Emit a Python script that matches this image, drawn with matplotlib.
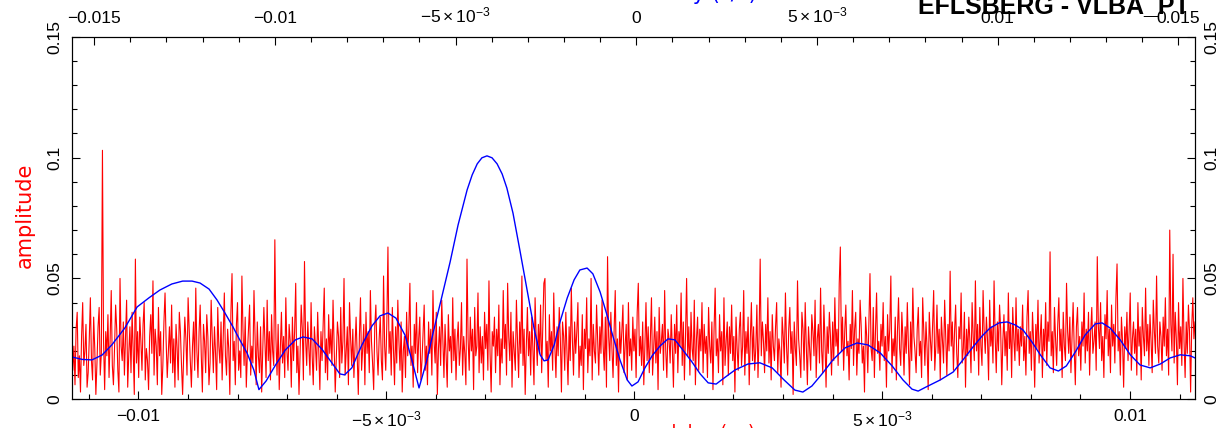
import numpy as np
import matplotlib.pyplot as plt
from matplotlib.ticker import MultipleLocator

plt.rcParams['font.family'] = ['Liberation Sans', 'DejaVu Sans']
plt.rcParams['mathtext.fontset'] = 'custom'
plt.rcParams['mathtext.rm'] = 'Liberation Sans'
plt.rcParams['mathtext.it'] = 'Liberation Sans'

# red: amplitude vs delay (bottom axis), in units of 1e-3
red_amp_milli = [
    32, 12, 22, 6, 29, 36, 9, 18, 3, 26, 40, 14, 20, 31, 5, 11, 25, 42, 16, 8, 34, 21, 2, 15, 30, 38, 10, 19, 103, 24, 4, 28,
    18, 35, 9, 25, 45, 14, 6, 21, 39, 29, 12, 3, 50, 22, 16, 32, 10, 26, 41, 5, 19, 30, 11, 36, 20, 2, 58, 15, 28, 9, 34, 24,
    12, 31, 40, 8, 21, 16, 4, 26, 35, 19, 49, 10, 29, 22, 6, 38, 18, 28, 2, 14, 32, 44, 24, 9, 20, 30, 15, 39, 11, 25, 5, 31,
    21, 8, 36, 28, 14, 2, 19, 34, 25, 10, 42, 29, 16, 5, 22, 32, 12, 46, 20, 9, 28, 39, 18, 3, 31, 24, 11, 35, 26, 6, 15, 41,
    25, 11, 30, 19, 4, 38, 22, 15, 32, 8, 26, 44, 18, 10, 29, 21, 2, 36, 52, 16, 24, 6, 31, 40, 12, 20, 9, 51, 28, 14, 34, 5,
    19, 29, 39, 10, 22, 15, 45, 26, 6, 32, 18, 11, 30, 3, 21, 38, 24, 9, 41, 16, 28, 8, 35, 20, 14, 66, 25, 10, 31, 4, 21, 36,
    15, 26, 9, 42, 20, 12, 31, 24, 5, 34, 16, 28, 48, 11, 22, 2, 19, 39, 29, 8, 57, 25, 14, 32, 21, 10, 40, 18, 6, 30, 22, 12,
    36, 20, 4, 28, 16, 31, 46, 11, 25, 8, 35, 19, 29, 14, 41, 22, 3, 18, 32, 26, 9, 38, 15, 24, 50, 10, 20, 30, 6, 40, 25, 14,
    29, 9, 22, 34, 18, 2, 26, 42, 12, 21, 31, 6, 36, 19, 28, 11, 45, 24, 15, 4, 30, 39, 20, 10, 25, 34, 16, 8, 51, 22, 12, 32,
    63, 19, 28, 10, 38, 21, 6, 30, 15, 41, 24, 12, 32, 3, 20, 26, 9, 36, 18, 29, 48, 14, 22, 5, 31, 19, 40, 11, 25, 34, 8, 16,
    28, 39, 12, 22, 6, 32, 19, 29, 10, 45, 24, 15, 36, 2, 21, 30, 14, 41, 25, 9, 31, 18, 5, 35, 20, 26, 11, 42, 16, 29, 8, 24,
    32, 14, 21, 40, 10, 26, 19, 6, 58, 25, 12, 34, 20, 29, 4, 38, 18, 22, 44, 11, 30, 15, 26, 8, 36, 21, 31, 12, 49, 19, 3, 28,
    22, 34, 11, 29, 18, 39, 6, 25, 15, 45, 21, 31, 10, 48, 26, 16, 36, 5, 28, 20, 12, 41, 24, 9, 32, 19, 51, 14, 29, 2, 22, 38,
    18, 28, 10, 34, 21, 6, 42, 25, 14, 31, 19, 39, 11, 29, 48, 50, 16, 24, 5, 35, 20, 28, 12, 44, 22, 9, 30, 18, 38, 25, 3, 32,
    26, 12, 36, 20, 6, 30, 16, 46, 24, 10, 32, 19, 28, 40, 9, 22, 14, 35, 4, 29, 21, 42, 11, 25, 18, 50, 8, 31, 20, 15, 39, 24,
    10, 30, 19, 41, 22, 12, 34, 5, 59, 26, 16, 36, 21, 9, 29, 45, 14, 25, 3, 32, 19, 28, 39, 11, 22, 31, 8, 40, 18, 25, 12, 34,
    20, 29, 9, 36, 48, 18, 26, 14, 32, 6, 22, 40, 16, 30, 11, 25, 42, 10, 21, 34, 15, 28, 4, 38, 19, 24, 31, 12, 45, 20, 9, 29,
    25, 15, 35, 21, 5, 31, 19, 39, 11, 28, 22, 44, 14, 32, 8, 26, 50, 18, 30, 10, 36, 21, 16, 41, 6, 25, 34, 12, 29, 20, 40, 11,
    31, 19, 26, 9, 38, 22, 15, 32, 4, 29, 46, 18, 25, 11, 35, 20, 28, 6, 42, 14, 24, 32, 10, 30, 19, 39, 16, 26, 3, 34, 21, 12,
    29, 36, 14, 22, 45, 10, 28, 19, 34, 6, 25, 40, 16, 30, 12, 21, 39, 9, 26, 58, 18, 32, 24, 11, 31, 20, 42, 15, 28, 8, 35, 22,
    16, 30, 40, 11, 25, 20, 5, 34, 26, 15, 44, 22, 10, 29, 38, 19, 28, 2, 32, 21, 14, 49, 25, 18, 9, 36, 29, 12, 40, 22, 6, 30,
    21, 12, 35, 28, 18, 41, 9, 25, 31, 15, 46, 20, 11, 39, 24, 5, 30, 19, 36, 26, 10, 32, 16, 42, 22, 29, 14, 48, 63, 20, 34, 12,
    28, 39, 18, 24, 8, 31, 21, 45, 14, 29, 36, 10, 25, 19, 41, 30, 15, 22, 3, 34, 26, 11, 32, 52, 21, 16, 38, 9, 28, 44, 19, 24,
    12, 31, 22, 40, 16, 26, 5, 35, 20, 29, 51, 11, 25, 18, 34, 8, 28, 42, 21, 14, 36, 25, 10, 30, 19, 40, 22, 6, 32, 16, 46, 26,
    20, 11, 29, 38, 18, 24, 9, 42, 28, 14, 32, 21, 4, 36, 25, 16, 30, 45, 12, 22, 39, 19, 29, 8, 34, 24, 15, 41, 26, 10, 31, 20,
    53, 22, 32, 12, 28, 39, 19, 9, 30, 25, 44, 15, 21, 36, 5, 29, 18, 34, 24, 11, 40, 26, 16, 49, 20, 31, 10, 38, 22, 14, 45, 28,
    19, 34, 25, 8, 41, 22, 30, 15, 49, 26, 11, 32, 20, 39, 29, 6, 24, 35, 18, 28, 12, 44, 21, 31, 9, 38, 25, 16, 42, 20, 29, 14,
    30, 22, 39, 16, 26, 10, 34, 45, 19, 28, 12, 36, 24, 5, 31, 21, 41, 15, 25, 35, 9, 29, 20, 40, 14, 32, 24, 61, 18, 28, 11, 38,
    25, 14, 31, 42, 20, 29, 9, 36, 22, 16, 48, 28, 19, 34, 11, 25, 40, 21, 6, 30, 38, 18, 26, 12, 32, 22, 44, 15, 29, 20, 36, 10,
    28, 38, 19, 24, 32, 12, 59, 30, 21, 40, 16, 26, 9, 35, 25, 45, 18, 29, 11, 39, 22, 31, 15, 42, 56, 20, 28, 10, 34, 24, 5, 30,
    21, 36, 16, 28, 44, 12, 25, 32, 19, 29, 10, 40, 22, 30, 8, 38, 26, 18, 46, 20, 31, 14, 35, 24, 11, 41, 28, 19, 51, 22, 15, 32,
    26, 12, 34, 22, 42, 18, 29, 10, 70, 31, 20, 60, 15, 36, 25, 6, 40, 21, 30, 14, 50, 24, 9, 32, 19, 39, 28, 3, 30, 42, 25, 32,
]
red_amp = np.array(red_amp_milli) / 1000.0
bottom_lim = (-0.011344, 0.011310)
red_x = np.linspace(bottom_lim[0], bottom_lim[1], len(red_amp))

# blue: amplitude vs top axis value (x in units of 1e-3)
blue_x_milli = [
    -15.61, -15.33, -15.06, -14.78, -14.51, -14.15, -13.81, -13.48, -13.18, -12.85,
    -12.55, -12.29, -12.07, -11.82, -11.60, -11.38, -11.16, -10.97, -10.77, -10.58,
    -10.44, -10.24, -9.98, -9.71, -9.43, -9.22, -8.97, -8.70, -8.42, -8.20,
    -8.07, -7.87, -7.59, -7.31, -7.09, -6.87, -6.65, -6.40, -6.21, -6.01,
    -5.79, -5.62, -5.40, -5.15, -4.93, -4.68, -4.54, -4.40, -4.27, -4.13,
    -3.99, -3.85, -3.71, -3.58, -3.41, -3.22, -3.02, -2.83, -2.66, -2.55,
    -2.44, -2.27, -2.11, -1.91, -1.72, -1.56, -1.36, -1.20, -1.00, -0.81,
    -0.64, -0.45, -0.25, -0.12, 0.05, 0.24, 0.44, 0.66, 0.88, 1.07,
    1.29, 1.54, 1.77, 1.99, 2.21, 2.43, 2.73, 3.09, 3.42, 3.76,
    4.09, 4.39, 4.61, 4.86, 5.14, 5.44, 5.78, 6.11, 6.41, 6.75,
    7.08, 7.38, 7.63, 7.80, 8.02, 8.41, 8.77, 9.04, 9.32, 9.57,
    9.79, 10.04, 10.26, 10.48, 10.70, 10.95, 11.18, 11.45, 11.68, 11.90,
    12.15, 12.42, 12.70, 12.89, 13.11, 13.39, 13.67, 13.94, 14.22, 14.50,
    14.77, 15.05, 15.33, 15.46,
]
blue_amp = [
    0.0175, 0.0165, 0.0163, 0.0183, 0.0225, 0.0295, 0.0382, 0.0420, 0.0452, 0.0477,
    0.0489, 0.0489, 0.0481, 0.0456, 0.0411, 0.0357, 0.0300, 0.0246, 0.0192, 0.0121,
    0.0040, 0.0076, 0.0142, 0.0204, 0.0246, 0.0258, 0.0250, 0.0208, 0.0150, 0.0105,
    0.0101, 0.0130, 0.0225, 0.0304, 0.0345, 0.0357, 0.0336, 0.0266, 0.0163, 0.0047,
    0.0163, 0.0275, 0.0411, 0.0568, 0.0721, 0.0866, 0.0928, 0.0974, 0.0999, 0.1007,
    0.0999, 0.0974, 0.0932, 0.0874, 0.0770, 0.0617, 0.0452, 0.0295, 0.0184, 0.0159,
    0.0163, 0.0225, 0.0320, 0.0419, 0.0494, 0.0535, 0.0543, 0.0519, 0.0444, 0.0349,
    0.0258, 0.0163, 0.0080, 0.0055, 0.0072, 0.0130, 0.0180, 0.0221, 0.0250, 0.0246,
    0.0204, 0.0155, 0.0105, 0.0068, 0.0063, 0.0088, 0.0121, 0.0146, 0.0151, 0.0130,
    0.0080, 0.0038, 0.0030, 0.0055, 0.0105, 0.0163, 0.0213, 0.0233, 0.0225, 0.0192,
    0.0138, 0.0080, 0.0042, 0.0034, 0.0051, 0.0080, 0.0113, 0.0163, 0.0217, 0.0262,
    0.0295, 0.0316, 0.0320, 0.0308, 0.0287, 0.0237, 0.0184, 0.0130, 0.0117, 0.0138,
    0.0196, 0.0266, 0.0312, 0.0316, 0.0295, 0.0246, 0.0184, 0.0142, 0.0130, 0.0146,
    0.0171, 0.0184, 0.0180, 0.0171,
]
blue_x = np.array(blue_x_milli) / 1000.0
top_lim = (-0.01562, 0.01546)

bottom_ticks = [-0.01, -0.005, 0, 0.005, 0.01]
bottom_labels = ['\u22120.01', r'$-5\times10^{-3}$', '0', r'$5\times10^{-3}$', '0.01']
top_ticks = [-0.015, -0.01, -0.005, 0, 0.005, 0.01, 0.015]
top_labels = ['\u22120.015', '\u22120.01', r'$-5\times10^{-3}$', '0', r'$5\times10^{-3}$', '0.01', '0.015']
y_ticks = [0, 0.05, 0.1, 0.15]
y_labels = ['0', '0.05', '0.1', '0.15']

fig = plt.figure(figsize=(12.23, 4.28), dpi=100)
ax = fig.add_axes([0.05863, 0.06706, 0.91848, 0.84720])
ax.plot(red_x, red_amp, color='red', lw=0.8)
ax.set_xlim(*bottom_lim)
ax.set_ylim(0, 0.15)
ax.set_xticks(bottom_ticks)
ax.set_xticklabels(bottom_labels)
ax.xaxis.set_minor_locator(MultipleLocator(0.001))
ax.set_yticks(y_ticks)
ax.set_yticklabels(y_labels)
ax.yaxis.set_minor_locator(MultipleLocator(0.01))
ax.tick_params(which='both', direction='in', labelsize=12.5, width=0.8)
ax.tick_params(axis='x', which='both', top=False, pad=7)
ax.tick_params(axis='y', which='both', left=True, right=True, labelright=True,
               labelrotation=90, pad=7)
ax.tick_params(which='major', length=6)
ax.tick_params(which='minor', length=3.6)
for lab in ax.get_yticklabels():
    lab.set_va('center')

ax2 = ax.twiny()
ax2.plot(blue_x, blue_amp, color='blue', lw=1.0, solid_joinstyle='round')
ax2.set_xlim(*top_lim)
ax2.set_xticks(top_ticks)
ax2.set_xticklabels(top_labels)
ax2.xaxis.set_minor_locator(MultipleLocator(0.001))
ax2.tick_params(which='both', direction='in', labelsize=12.5, width=0.8, pad=8)
ax2.tick_params(which='major', length=6)
ax2.tick_params(which='minor', length=3.6)

for a in (ax, ax2):
    for s in a.spines.values():
        s.set_linewidth(0.8)

fig.text(25 / 1223, 1 - 215 / 428, 'amplitude', rotation=90, color='red',
         fontsize=15, family='DejaVu Sans', ha='center', va='center')
fig.text(665 / 1223, 4 / 428, 'delay (\u03bcs)', color='red', fontsize=13,
         family='DejaVu Sans', ha='left', va='top')
fig.text(648 / 1223, 1 + 0.5 / 428, 'delay (s/s)', color='blue', fontsize=15,
         family='DejaVu Sans', ha='left', va='baseline')
fig.text(1190 / 1223, 1 - 13 / 428, 'EFLSBERG - VLBA_PT', color='black',
         fontsize=18, fontweight='bold', ha='right', va='baseline')

fig.savefig('out.png', dpi=100)
